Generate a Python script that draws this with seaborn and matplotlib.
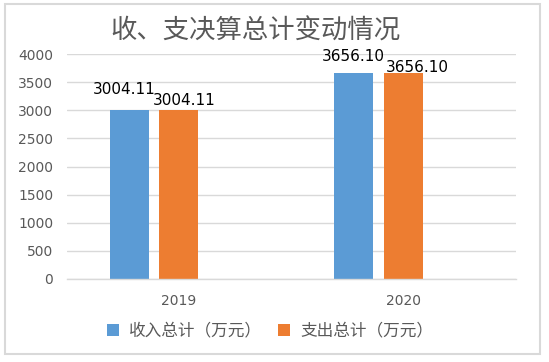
import matplotlib
matplotlib.use("Agg")
import matplotlib.pyplot as plt
import matplotlib.transforms as mtransforms
from matplotlib.patches import Rectangle
import seaborn as sns
import pandas as pd

# ---- data ----
years = ["2019", "2020"]
series_names = ["收入总计（万元）", "支出总计（万元）"]
income = [3004.11, 3656.10]
expense = [3004.11, 3656.10]
yticks = [0, 500, 1000, 1500, 2000, 2500, 3000, 3500, 4000]

df = pd.DataFrame({
    "year": years * 2,
    "type": [series_names[0]] * len(years) + [series_names[1]] * len(years),
    "value": income + expense,
})

sns.set_style("white")
plt.rcParams["font.family"] = ["DejaVu Sans", "Noto Sans CJK SC"]

W, H = 549, 362
fig = plt.figure(figsize=(W / 100, H / 100), dpi=100)
ax = fig.add_axes([67 / W, 1 - 279 / H, (516 - 67) / W, (279 - 54) / H])

colors = ["#5B9BD5", "#ED7D31"]
sns.barplot(data=df, x="year", y="value", hue="type", palette=colors,
            width=0.441, gap=0.21, ax=ax, legend=True, saturation=1,
            linewidth=0)

ax.set_xlim(-0.3875, 1.6125)
ax.set_ylim(0, 4000)
ax.set_yticks(yticks)
ax.set_yticklabels([str(t) for t in yticks])
ax.yaxis.grid(True, color="#d9d9d9", linewidth=1)
ax.set_axisbelow(True)
for s in ["left", "right", "top"]:
    ax.spines[s].set_visible(False)
ax.spines["bottom"].set_color("#d9d9d9")
ax.spines["bottom"].set_linewidth(1)
ax.tick_params(axis="both", length=0, labelsize=10, colors="#595959")
ax.tick_params(axis="y", pad=10)
ax.tick_params(axis="x", pad=11)
ax.set_xlabel("")
ax.set_ylabel("")

# shift x tick labels right (Excel-like rendering)
offset = mtransforms.ScaledTranslation(25 / 100, 0, fig.dpi_scale_trans)
for lbl in ax.get_xticklabels():
    lbl.set_transform(lbl.get_transform() + offset)

# value labels
label_offsets = [[(-5, 21), (0, 17)], [(5, 10), (14, 6)]]
for ci, cont in enumerate(ax.containers):
    for pi, p in enumerate(cont.patches):
        v = p.get_height()
        dx, dy = label_offsets[ci][pi]
        ax.annotate(f"{v:.2f}", (p.get_x() + p.get_width() / 2, v),
                    xytext=(dx, dy), textcoords="offset pixels",
                    ha="center", va="center", fontsize=11, color="black")

# legend
handles, labels = ax.get_legend_handles_labels()
ax.get_legend().remove()
leg = fig.legend(handles, labels, loc="center", bbox_to_anchor=(270 / W, 1 - 331 / H),
                 ncol=2, frameon=False, handlelength=0.7, handleheight=0.7,
                 handletextpad=0.6, columnspacing=1.0,
                 prop={"family": ["Noto Sans CJK SC"], "size": 12})
for t in leg.get_texts():
    t.set_color("#595959")

# title
fig.text(255 / W, 1 - 31 / H, "收、支决算总计变动情况", ha="center", va="center",
         fontsize=19, color="#595959", family=["Noto Sans CJK SC"],
         fontweight="light")

# outer border
fig.patches.append(Rectangle((5 / W, 1 - 354 / H), (540 - 5) / W, (354 - 4) / H,
                             transform=fig.transFigure, fill=False,
                             edgecolor="#d9d9d9", linewidth=1.5))

fig.savefig("out.png", dpi=100)
